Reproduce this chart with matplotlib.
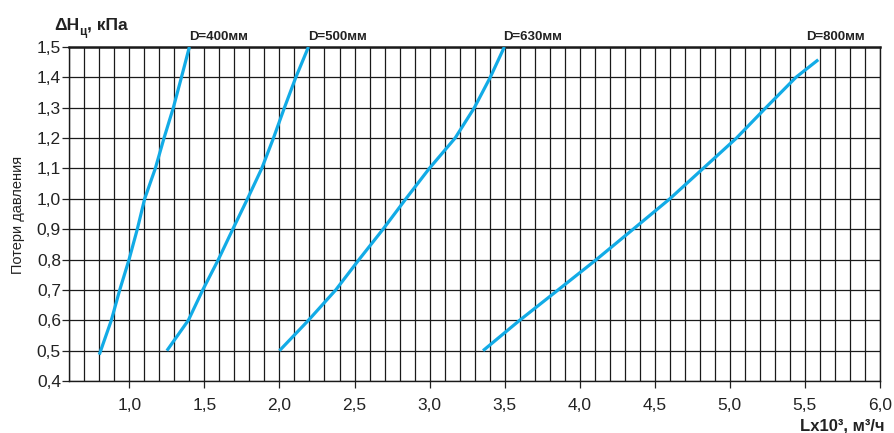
import numpy as np
import matplotlib
matplotlib.use("Agg")
import matplotlib.pyplot as plt
from matplotlib.ticker import MultipleLocator, FuncFormatter

plt.rcParams['font.family'] = ['Liberation Sans', 'DejaVu Sans']

# pressure loss levels, kPa
dp = [0.5, 0.6, 0.7, 0.8, 0.9, 1.0, 1.1, 1.2, 1.3, 1.4, 1.5]
dp400 = [0.487, 0.6, 0.7, 0.8, 0.9, 1.0, 1.1, 1.2, 1.3, 1.4, 1.5]
dp800 = [0.5, 0.6, 0.7, 0.8, 0.9, 1.0, 1.1, 1.2, 1.3, 1.4, 1.458]

# flow rate (x10^3 m3/h) read at each level
q400 = [0.80, 0.88, 0.936, 0.998, 1.053, 1.102, 1.173, 1.231, 1.293, 1.347, 1.40]
q500 = [1.25, 1.393, 1.489, 1.593, 1.689, 1.787, 1.882, 1.96, 2.033, 2.109, 2.193]
q630 = [2.00, 2.193, 2.375, 2.53, 2.69, 2.842, 2.998, 3.17, 3.298, 3.404, 3.498]
q800 = [3.356, 3.60, 3.856, 4.111, 4.356, 4.60, 4.822, 5.044, 5.24, 5.44, 5.589]

labels = ['D=400мм', 'D=500мм', 'D=630мм', 'D=800мм']
label_x = [1.40, 2.19, 3.49, 5.51]

fig = plt.figure(figsize=(8.94, 4.33), dpi=100)
ax = fig.add_axes([0.0775, 0.12, 0.9068, 0.7715])

blue = '#12abe6'
for xs, ys in [(q400, dp400), (q500, dp), (q630, dp), (q800, dp800)]:
    ax.plot(xs, ys, color=blue, lw=2.3, solid_capstyle='butt', zorder=3)

ax.set_xlim(0.6, 6.0)
ax.set_ylim(0.4, 1.5)
ax.xaxis.set_major_locator(MultipleLocator(0.5))
ax.xaxis.set_minor_locator(MultipleLocator(0.1))
ax.yaxis.set_major_locator(MultipleLocator(0.1))

comma = FuncFormatter(lambda v, p: ('%.1f' % v).replace('.', ','))
ax.xaxis.set_major_formatter(comma)
ax.yaxis.set_major_formatter(comma)

ax.grid(True, which='both', color='#1a1a1a', lw=0.9)
ax.set_axisbelow(True)
ax.tick_params(axis='x', which='major', direction='out', length=5, width=0.9, pad=7, labelsize=12.5, colors='#222222')
ax.tick_params(axis='x', which='minor', length=0)
ax.tick_params(axis='y', direction='out', length=5, width=0.9, pad=1, labelsize=12.5, colors='#222222')
for s in ax.spines.values():
    s.set_color('#1a1a1a')
    s.set_linewidth(1.0)
ax.spines['top'].set_linewidth(1.8)

# labels above each curve
for lx, txt in zip(label_x, labels):
    ax.annotate(txt, xy=(lx, 1.5), xytext=(0, 3), textcoords='offset points',
                ha='left', va='bottom', fontsize=9.5, fontweight='bold', color='#222222')

# y title: delta H with subscript
t1 = fig.text(54 / 894, 1 - 25 / 433, 'ΔH', fontsize=12.5, fontweight='bold', va='center', ha='left', color='#222222')
ax.annotate('ц', xy=(1, 0.05), xycoords=t1, ha='left', va='center', fontsize=8.5, fontweight='bold', color='#222222')
ax.annotate(', кПа', xy=(1, 0.5), xycoords=t1, xytext=(5.5, 0), textcoords='offset points',
            ha='left', va='center', fontsize=12.5, fontweight='bold', color='#222222')

fig.text(18 / 894, 1 - 215 / 433, 'Потери давления', rotation=90, ha='center', va='center', fontsize=10.5, color='#222222')
fig.text(885 / 894, 1 - 426 / 433, 'Lx10³, м³/ч', ha='right', va='center', fontsize=12, fontweight='bold', color='#222222')

fig.savefig('out.png', dpi=100)
